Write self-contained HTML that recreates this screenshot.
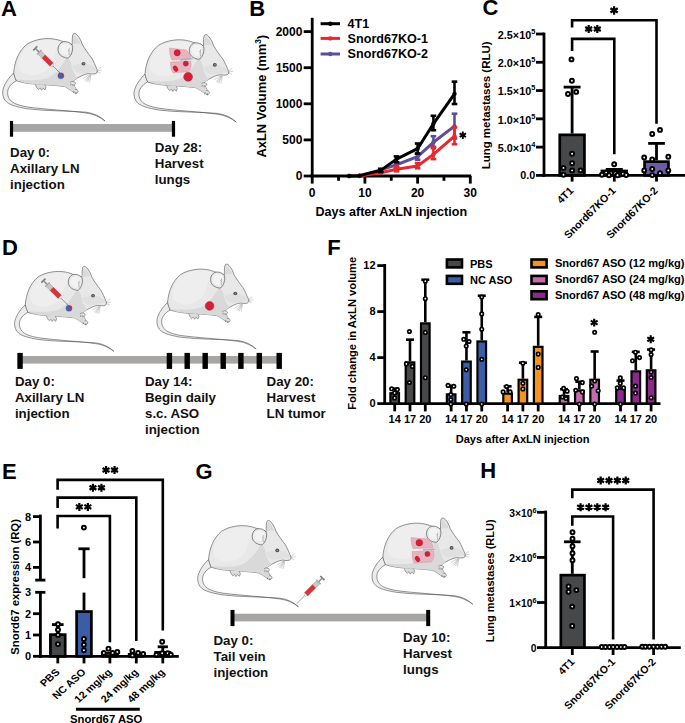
<!DOCTYPE html>
<html><head><meta charset="utf-8"><style>
html,body{margin:0;padding:0;background:#fff;width:685px;height:723px;overflow:hidden}
svg{display:block}
text{font-family:"Liberation Sans", sans-serif;font-weight:bold}
</style></head><body>
<svg width="685" height="723" viewBox="0 0 685 723" font-family='"Liberation Sans", sans-serif' font-weight="bold">
<defs>
<g id="mouse">
 <path d="M13.7 72.9 C9.5 77 5.5 82 3.6 87.5 C1.8 92.5 2.6 98.5 6.7 102.1 C10.5 105.2 17 107 27.4 108.8 C45 111.2 68 110.6 86 112.2 C94 113.2 100.5 116.5 105 121 C100.5 117.5 94.5 114.2 86 113 C70 110.6 45 109.5 27.4 107 C18 105.3 12.5 103 10.2 100 C7.2 96.5 7 91.5 8.6 88.2 C10.5 84.5 13.5 82.2 16.4 80.8 Z" fill="#ececec" stroke="#4a4a4a" stroke-width="0.6"/>
 <path d="M13.7 72.9 C14.5 62 18.5 51 27 44.2 C35 39 47 37.6 55 39.2 C58 39.8 60.5 40.6 62.3 41.3 L72.2 44.6 C72.3 40 72.2 36 73 34.3 C74 33 75.5 33 77 34.8 C79.5 37.5 81.3 41 82 43.9 C84.5 48.5 88.5 54 91.5 57.7 C93.5 61 95.5 66 97 69.4 C97.8 71.2 97.5 72.8 95.8 73.6 C93.5 74.3 91 73.8 88.6 73.6 C85 74 81 76 77.5 78 C75.5 79.5 73.5 80.5 72.5 81.5 C73.5 84.5 75.5 88 77 91 C77.5 92.5 76 93.3 74.5 92.8 C71 90.5 67.5 88 64.5 86.5 C58 85.6 52 85.2 46 84.8 C40 84.5 34 84.2 28 83.4 C23 82.6 19 81.6 16.4 80.8 C15 78 14.2 75.5 13.7 72.9 Z" fill="#e8e8e8" stroke="#4a4a4a" stroke-width="0.6"/>
 <path d="M67 57 C63 64 58.5 72 49 77.5 C40 81 28 80.5 17.5 79.6 C19.5 81.6 23 82.6 28 83.4 C34 84.2 40 84.5 46 84.8 C52 85.2 58 85.6 64.5 86.5 C67.5 88 71 90.5 74.5 92.6 L76.8 91 C75.3 88 73.4 84.5 72.6 81.6 C73.5 80.5 75.5 79.5 77.5 78 C74.5 75 72 70 71 63 C70 60 68.5 58 67 57 Z" fill="#d9d9d9"/>
 <path d="M18.5 66 C18 55 25 45.5 36 41.5 C45 39 54 39.5 60.5 42 C57 47 54 56 52 63 C49 70 42 74.5 33 75 C25 75 19 71.5 18.5 66 Z" fill="#eeeeee"/>
 <path d="M72 66 C77 63.5 84 62.5 90 64.5 C93 66 95.5 68 96.8 70.2 C93 71.8 87 72.5 82 73.3 C77 74 74 71 72 66 Z" fill="#e0e0e0"/>
 <path d="M72.8 44.2 C73 40 73.3 37 74.2 35.2 C76.5 36.5 79 40 80.5 43.5 C78 43.5 75 44 72.8 44.2 Z" fill="#dadada"/>
 <path d="M60.2 55 C57.2 52 57.3 46 60.8 43 C64 40.3 69.8 41.8 72.2 45.2 C73.3 48 72.3 52.5 70.7 55.2 C69.5 57.4 68 58.4 66.5 58 C64 57.5 61.6 56.4 60.2 55 Z" fill="#eaeaea" stroke="#4a4a4a" stroke-width="0.65"/>
 <path d="M61.5 52.5 C59.8 50 60.3 46 62.8 44.3 C65.5 42.8 69.3 44 70.5 46.5 C71 49 70 52.5 68.5 54.5 C66.5 55.5 63.5 54.5 61.5 52.5 Z" fill="#f3f3f3"/>
 <path d="M69.3 48.2 C68.8 50.8 68.8 53.3 69.3 55.3 M68.3 50 L69 51" stroke="#7a7a7a" stroke-width="0.5" fill="none"/>
 <ellipse cx="83.5" cy="63.7" rx="2.0" ry="1.8" fill="#4a4a4a"/>
 <ellipse cx="83.6" cy="63.7" rx="1.0" ry="0.9" fill="#8a8a8a"/>
 <path d="M96.5 70.5 L101 67.2 M96.8 71 L102 70 M96.5 71.5 L100.5 73 M90 74.5 L85 80.5 M90.5 74.8 L87.5 82 M91 75 L89.5 82.5 M89.5 74.5 L83 78.5 M90.5 74.6 L86 81.5" stroke="#8c8c8c" stroke-width="0.4" fill="none"/>
 <path d="M70 82.5 C71.5 81 74 81.2 75.2 82.5 C76 83.6 75 85 73.5 85 M71 83.5 L70.8 85.5 M72.8 84 L73 86 M75 89.5 C76.5 89 78.2 90 78.2 91.5 C78 93 76.5 93.5 75 93 M74 91 L73.2 93.2 M76 92 L76 94.2" stroke="#4a4a4a" stroke-width="0.5" fill="#e4e4e4"/>
 <path d="M35.5 84.5 C36 86.5 37 88.5 38.5 89.5 L40.2 88 L41.5 90.3 L43 88.2 L45 90 L46 87.5 C45.5 86 45 85 44.5 84.6" stroke="#4a4a4a" stroke-width="0.5" fill="#dcdcdc"/>
</g>
<g id="syr">
 <g transform="rotate(45)">
  <rect x="-0.2" y="-2.9" width="1.6" height="5.8" fill="#7a7a7a"/>
  <rect x="1.4" y="-0.75" width="4.2" height="1.5" fill="#8c8c8c"/>
  <rect x="5.5" y="-3.1" width="1.1" height="6.2" fill="#9a9a9a"/>
  <rect x="6.6" y="-2.3" width="5.8" height="4.6" fill="#c6c6c6" stroke="#8a8a8a" stroke-width="0.35"/>
  <rect x="12.4" y="-2.3" width="11.3" height="4.6" fill="#d8333a" stroke="#a8232a" stroke-width="0.35"/>
  <rect x="23.7" y="-1.3" width="1.9" height="2.6" fill="#eeeeee" stroke="#8a8a8a" stroke-width="0.3"/>
  <line x1="25.5" y1="0" x2="37" y2="0" stroke="#4a4a4a" stroke-width="0.5"/>
 </g>
</g></defs>
<rect width="685" height="723" fill="#fff"/>
<text x="1.00" y="15.90" font-size="22" fill="#000" >A</text>
<text x="249.20" y="15.70" font-size="22" fill="#000" >B</text>
<text x="482.40" y="15.20" font-size="22" fill="#000" >C</text>
<text x="1.90" y="254.60" font-size="22" fill="#000" >D</text>
<text x="1.90" y="479.30" font-size="22" fill="#000" >E</text>
<text x="327.30" y="254.80" font-size="22" fill="#000" >F</text>
<text x="195.50" y="478.80" font-size="22" fill="#000" >G</text>
<text x="480.20" y="477.90" font-size="22" fill="#000" >H</text>
<use href="#mouse" transform="translate(0.00,0.00) scale(1.0)"/>
<use href="#syr" transform="translate(34.9,47.9)"/>
<circle cx="60.9" cy="75.8" r="3" fill="#3c64b4" stroke="#2a4a8a" stroke-width="0.4"/><circle cx="62.2" cy="75.1" r="1.4" fill="#e0263a"/>
<use href="#mouse" transform="translate(131.30,1.20) scale(1.0)"/>
<path d="M169.5 48 L186 50 C189 52 191 55 190.5 59 L172 60 C170 57 169.5 52 169.5 48 Z" fill="#e6b3be" stroke="#d08a9a" stroke-width="0.4"/>
<path d="M170.5 62 L190.5 61 C191.5 64 191.5 68 189 71.5 L173 73 C171 70 170.5 66 170.5 62 Z" fill="#e6b3be" stroke="#d08a9a" stroke-width="0.4"/>
<path d="M180.5 60 L192.5 58.6" stroke="#9fb3c9" stroke-width="1.3"/>
<circle cx="177.2" cy="52.8" r="3.1" fill="#d81e34" stroke="#a8142a" stroke-width="0.5"/><circle cx="185.8" cy="63.6" r="2.5" fill="#d81e34" stroke="#a8142a" stroke-width="0.5"/><ellipse cx="175.6" cy="68.7" rx="2" ry="3" transform="rotate(-30 175.6 68.7)" fill="#d81e34" stroke="#a8142a" stroke-width="0.5"/><circle cx="188.1" cy="76.8" r="4.4" fill="#d81e34" stroke="#a8142a" stroke-width="0.5"/>
<rect x="11.50" y="124.00" width="162.00" height="7.80" fill="#a7a6a4" stroke="none" stroke-width="0"/>
<rect x="9.90" y="120.90" width="3.20" height="15.80" fill="#000" stroke="none" stroke-width="0"/>
<rect x="171.90" y="120.90" width="3.20" height="15.80" fill="#000" stroke="none" stroke-width="0"/>
<g transform="translate(10.10,156.60) scale(1.11,1)" fill="#111">
<text x="0" y="0" font-size="12">Day 0:</text>
<text x="0" y="16" font-size="12">Axillary LN</text>
<text x="0" y="32" font-size="12">injection</text>
</g>
<g transform="translate(154.80,151.80) scale(1.11,1)" fill="#111">
<text x="0" y="0" font-size="12">Day 28:</text>
<text x="0" y="16" font-size="12">Harvest</text>
<text x="0" y="32" font-size="12">lungs</text>
</g>
<use href="#mouse" transform="translate(12.00,234.00) scale(0.97)"/>
<use href="#syr" transform="translate(43.0,280.2)"/>
<circle cx="69.0" cy="308.3" r="3" fill="#3c64b4" stroke="#2a4a8a" stroke-width="0.4"/><circle cx="70.3" cy="307.5" r="1.4" fill="#e0263a"/>
<use href="#mouse" transform="translate(154.30,231.70) scale(0.97)"/>
<circle cx="209.6" cy="305.9" r="4.3" fill="#d81e34" stroke="#a8142a" stroke-width="0.5"/>
<rect x="20.00" y="356.00" width="259.00" height="7.60" fill="#a7a6a4" stroke="none" stroke-width="0"/>
<rect x="17.35" y="352.90" width="5.40" height="16.00" fill="#000" stroke="none" stroke-width="0"/>
<rect x="166.70" y="352.90" width="5.40" height="16.00" fill="#000" stroke="none" stroke-width="0"/>
<rect x="184.50" y="352.90" width="5.40" height="16.00" fill="#000" stroke="none" stroke-width="0"/>
<rect x="202.50" y="352.90" width="5.40" height="16.00" fill="#000" stroke="none" stroke-width="0"/>
<rect x="220.50" y="352.90" width="5.40" height="16.00" fill="#000" stroke="none" stroke-width="0"/>
<rect x="238.20" y="352.90" width="5.40" height="16.00" fill="#000" stroke="none" stroke-width="0"/>
<rect x="256.60" y="352.90" width="5.40" height="16.00" fill="#000" stroke="none" stroke-width="0"/>
<rect x="276.50" y="352.90" width="5.40" height="16.00" fill="#000" stroke="none" stroke-width="0"/>
<g transform="translate(14.90,385.80) scale(1.11,1)" fill="#111">
<text x="0" y="0" font-size="12">Day 0:</text>
<text x="0" y="16" font-size="12">Axillary LN</text>
<text x="0" y="32" font-size="12">injection</text>
</g>
<g transform="translate(145.00,386.20) scale(1.11,1)" fill="#111">
<text x="0" y="0" font-size="12">Day 14:</text>
<text x="0" y="16" font-size="12">Begin daily</text>
<text x="0" y="32" font-size="12">s.c. ASO</text>
<text x="0" y="48" font-size="12">injection</text>
</g>
<g transform="translate(266.60,386.00) scale(1.11,1)" fill="#111">
<text x="0" y="0" font-size="12">Day 20:</text>
<text x="0" y="16" font-size="12">Harvest</text>
<text x="0" y="32" font-size="12">LN tumor</text>
</g>
<use href="#mouse" transform="translate(195.05,487.65) scale(0.985)"/>
<use href="#syr" transform="translate(322.8,577.6) rotate(90)"/>
<use href="#mouse" transform="translate(369.35,485.15) scale(0.985)"/>
<path d="M411 537.5 L428 539 C431.5 541 433 544 432.7 548 L413 548.5 C411.5 545 411 541 411 537.5 Z" fill="#e6b3be" stroke="#d08a9a" stroke-width="0.4"/>
<path d="M412 551.5 L433.5 551 C434.5 554 434 558 431.5 562 L414 563 C412.5 560 412 555.5 412 551.5 Z" fill="#e6b3be" stroke="#d08a9a" stroke-width="0.4"/>
<path d="M423 550 L434.5 549.3" stroke="#9fb3c9" stroke-width="1.3"/>
<circle cx="419.3" cy="542.7" r="3.3" fill="#d81e34" stroke="#a8142a" stroke-width="0.5"/><circle cx="427.4" cy="554" r="2.5" fill="#d81e34" stroke="#a8142a" stroke-width="0.5"/><ellipse cx="417.5" cy="559" rx="2" ry="3" transform="rotate(-30 417.5 559)" fill="#d81e34" stroke="#a8142a" stroke-width="0.5"/>
<rect x="232.50" y="613.70" width="195.70" height="7.70" fill="#a7a6a4" stroke="none" stroke-width="0"/>
<rect x="230.50" y="609.90" width="4.00" height="16.20" fill="#000" stroke="none" stroke-width="0"/>
<rect x="426.20" y="609.90" width="4.00" height="16.20" fill="#000" stroke="none" stroke-width="0"/>
<g transform="translate(213.50,644.70) scale(1.11,1)" fill="#111">
<text x="0" y="0" font-size="12">Day 0:</text>
<text x="0" y="16" font-size="12">Tail vein</text>
<text x="0" y="32" font-size="12">injection</text>
</g>
<g transform="translate(403.10,642.20) scale(1.11,1)" fill="#111">
<text x="0" y="0" font-size="12">Day 10:</text>
<text x="0" y="16" font-size="12">Harvest</text>
<text x="0" y="32" font-size="12">lungs</text>
</g>
<line x1="312.20" y1="17.80" x2="312.20" y2="177.40" stroke="#000" stroke-width="2.8" stroke-linecap="butt"/>
<line x1="310.80" y1="176.00" x2="471.20" y2="176.00" stroke="#000" stroke-width="2.8" stroke-linecap="butt"/>
<line x1="303.70" y1="176.00" x2="312.20" y2="176.00" stroke="#000" stroke-width="2.8" stroke-linecap="butt"/>
<text x="302.40" y="180.30" font-size="12" fill="#000" text-anchor="end" >0</text>
<line x1="303.70" y1="139.90" x2="312.20" y2="139.90" stroke="#000" stroke-width="2.8" stroke-linecap="butt"/>
<text x="302.40" y="144.20" font-size="12" fill="#000" text-anchor="end" >500</text>
<line x1="303.70" y1="103.80" x2="312.20" y2="103.80" stroke="#000" stroke-width="2.8" stroke-linecap="butt"/>
<text x="302.40" y="108.10" font-size="12" fill="#000" text-anchor="end" >1000</text>
<line x1="303.70" y1="67.70" x2="312.20" y2="67.70" stroke="#000" stroke-width="2.8" stroke-linecap="butt"/>
<text x="302.40" y="72.00" font-size="12" fill="#000" text-anchor="end" >1500</text>
<line x1="303.70" y1="31.60" x2="312.20" y2="31.60" stroke="#000" stroke-width="2.8" stroke-linecap="butt"/>
<text x="302.40" y="35.90" font-size="12" fill="#000" text-anchor="end" >2000</text>
<line x1="312.20" y1="176.00" x2="312.20" y2="183.60" stroke="#000" stroke-width="2.8" stroke-linecap="butt"/>
<text x="312.20" y="196.50" font-size="12" fill="#000" text-anchor="middle" >0</text>
<line x1="364.90" y1="176.00" x2="364.90" y2="183.60" stroke="#000" stroke-width="2.8" stroke-linecap="butt"/>
<text x="364.90" y="196.50" font-size="12" fill="#000" text-anchor="middle" >10</text>
<line x1="417.60" y1="176.00" x2="417.60" y2="183.60" stroke="#000" stroke-width="2.8" stroke-linecap="butt"/>
<text x="417.60" y="196.50" font-size="12" fill="#000" text-anchor="middle" >20</text>
<line x1="470.30" y1="176.00" x2="470.30" y2="183.60" stroke="#000" stroke-width="2.8" stroke-linecap="butt"/>
<text x="470.30" y="196.50" font-size="12" fill="#000" text-anchor="middle" >30</text>
<line x1="338.55" y1="176.00" x2="338.55" y2="180.80" stroke="#000" stroke-width="2.8" stroke-linecap="butt"/>
<line x1="391.25" y1="176.00" x2="391.25" y2="180.80" stroke="#000" stroke-width="2.8" stroke-linecap="butt"/>
<line x1="443.95" y1="176.00" x2="443.95" y2="180.80" stroke="#000" stroke-width="2.8" stroke-linecap="butt"/>
<text x="391.30" y="216.00" font-size="12.5" fill="#000" text-anchor="middle" textLength="151.5" lengthAdjust="spacingAndGlyphs" >Days after AxLN injection</text>
<text font-size="12.9" text-anchor="middle" transform="translate(266.2,96.2) rotate(-90)">AxLN Volume (mm<tspan font-size="8.3" dy="-5">3</tspan><tspan dy="5">)</tspan></text>
<line x1="320.60" y1="23.70" x2="340.00" y2="23.70" stroke="#000" stroke-width="3" stroke-linecap="butt"/>
<circle cx="330.3" cy="23.7" r="2.2" fill="#000"/>
<text x="347.60" y="28.10" font-size="12.6" fill="#000" >4T1</text>
<line x1="320.60" y1="38.40" x2="340.00" y2="38.40" stroke="#e8282c" stroke-width="3" stroke-linecap="butt"/>
<circle cx="330.3" cy="38.4" r="2.2" fill="#e8282c"/>
<text x="347.60" y="42.80" font-size="12.6" fill="#000" >Snord67KO-1</text>
<line x1="320.60" y1="54.00" x2="340.00" y2="54.00" stroke="#5e4e9a" stroke-width="3" stroke-linecap="butt"/>
<circle cx="330.3" cy="54.0" r="2.2" fill="#5e4e9a"/>
<text x="347.60" y="58.40" font-size="12.6" fill="#000" >Snord67KO-2</text>
<path d="M349.09 176.00 L359.63 175.78 L380.71 169.86 L396.52 164.74 L417.60 156.72 L433.41 142.28 L454.49 126.18" fill="none" stroke="#5e4e9a" stroke-width="3" stroke-linejoin="round"/>
<line x1="396.52" y1="167.34" x2="396.52" y2="162.28" stroke="#5e4e9a" stroke-width="2.6" stroke-linecap="butt"/>
<line x1="393.72" y1="167.34" x2="399.32" y2="167.34" stroke="#5e4e9a" stroke-width="2.6" stroke-linecap="butt"/>
<line x1="393.72" y1="162.28" x2="399.32" y2="162.28" stroke="#5e4e9a" stroke-width="2.6" stroke-linecap="butt"/>
<line x1="417.60" y1="159.75" x2="417.60" y2="153.62" stroke="#5e4e9a" stroke-width="2.6" stroke-linecap="butt"/>
<line x1="414.80" y1="159.75" x2="420.40" y2="159.75" stroke="#5e4e9a" stroke-width="2.6" stroke-linecap="butt"/>
<line x1="414.80" y1="153.62" x2="420.40" y2="153.62" stroke="#5e4e9a" stroke-width="2.6" stroke-linecap="butt"/>
<line x1="433.41" y1="148.20" x2="433.41" y2="136.22" stroke="#5e4e9a" stroke-width="2.6" stroke-linecap="butt"/>
<line x1="430.61" y1="148.20" x2="436.21" y2="148.20" stroke="#5e4e9a" stroke-width="2.6" stroke-linecap="butt"/>
<line x1="430.61" y1="136.22" x2="436.21" y2="136.22" stroke="#5e4e9a" stroke-width="2.6" stroke-linecap="butt"/>
<line x1="454.49" y1="138.46" x2="454.49" y2="113.69" stroke="#5e4e9a" stroke-width="2.6" stroke-linecap="butt"/>
<line x1="451.69" y1="138.46" x2="457.29" y2="138.46" stroke="#5e4e9a" stroke-width="2.6" stroke-linecap="butt"/>
<line x1="451.69" y1="113.69" x2="457.29" y2="113.69" stroke="#5e4e9a" stroke-width="2.6" stroke-linecap="butt"/>
<circle cx="349.09" cy="176.00" r="2.2" fill="#5e4e9a"/>
<circle cx="359.63" cy="175.78" r="2.2" fill="#5e4e9a"/>
<circle cx="380.71" cy="169.86" r="2.2" fill="#5e4e9a"/>
<circle cx="396.52" cy="164.74" r="2.2" fill="#5e4e9a"/>
<circle cx="417.60" cy="156.72" r="2.2" fill="#5e4e9a"/>
<circle cx="433.41" cy="142.28" r="2.2" fill="#5e4e9a"/>
<circle cx="454.49" cy="126.18" r="2.2" fill="#5e4e9a"/>
<path d="M349.09 176.00 L359.63 176.00 L380.71 172.82 L396.52 169.21 L417.60 166.04 L433.41 154.34 L454.49 136.22" fill="none" stroke="#e8282c" stroke-width="3" stroke-linejoin="round"/>
<line x1="396.52" y1="171.31" x2="396.52" y2="166.97" stroke="#e8282c" stroke-width="2.6" stroke-linecap="butt"/>
<line x1="393.72" y1="171.31" x2="399.32" y2="171.31" stroke="#e8282c" stroke-width="2.6" stroke-linecap="butt"/>
<line x1="393.72" y1="166.97" x2="399.32" y2="166.97" stroke="#e8282c" stroke-width="2.6" stroke-linecap="butt"/>
<line x1="417.60" y1="168.27" x2="417.60" y2="163.08" stroke="#e8282c" stroke-width="2.6" stroke-linecap="butt"/>
<line x1="414.80" y1="168.27" x2="420.40" y2="168.27" stroke="#e8282c" stroke-width="2.6" stroke-linecap="butt"/>
<line x1="414.80" y1="163.08" x2="420.40" y2="163.08" stroke="#e8282c" stroke-width="2.6" stroke-linecap="butt"/>
<line x1="433.41" y1="159.11" x2="433.41" y2="146.83" stroke="#e8282c" stroke-width="2.6" stroke-linecap="butt"/>
<line x1="430.61" y1="159.11" x2="436.21" y2="159.11" stroke="#e8282c" stroke-width="2.6" stroke-linecap="butt"/>
<line x1="430.61" y1="146.83" x2="436.21" y2="146.83" stroke="#e8282c" stroke-width="2.6" stroke-linecap="butt"/>
<line x1="454.49" y1="144.23" x2="454.49" y2="127.48" stroke="#e8282c" stroke-width="2.6" stroke-linecap="butt"/>
<line x1="451.69" y1="144.23" x2="457.29" y2="144.23" stroke="#e8282c" stroke-width="2.6" stroke-linecap="butt"/>
<line x1="451.69" y1="127.48" x2="457.29" y2="127.48" stroke="#e8282c" stroke-width="2.6" stroke-linecap="butt"/>
<circle cx="349.09" cy="176.00" r="2.2" fill="#e8282c"/>
<circle cx="359.63" cy="176.00" r="2.2" fill="#e8282c"/>
<circle cx="380.71" cy="172.82" r="2.2" fill="#e8282c"/>
<circle cx="396.52" cy="169.21" r="2.2" fill="#e8282c"/>
<circle cx="417.60" cy="166.04" r="2.2" fill="#e8282c"/>
<circle cx="433.41" cy="154.34" r="2.2" fill="#e8282c"/>
<circle cx="454.49" cy="136.22" r="2.2" fill="#e8282c"/>
<path d="M349.09 176.00 L359.63 175.64 L380.71 170.37 L396.52 159.11 L417.60 148.71 L433.41 123.80 L454.49 93.84" fill="none" stroke="#000" stroke-width="3" stroke-linejoin="round"/>
<line x1="380.71" y1="172.03" x2="380.71" y2="168.78" stroke="#000" stroke-width="2.6" stroke-linecap="butt"/>
<line x1="377.91" y1="172.03" x2="383.51" y2="172.03" stroke="#000" stroke-width="2.6" stroke-linecap="butt"/>
<line x1="377.91" y1="168.78" x2="383.51" y2="168.78" stroke="#000" stroke-width="2.6" stroke-linecap="butt"/>
<line x1="396.52" y1="162.28" x2="396.52" y2="156.43" stroke="#000" stroke-width="2.6" stroke-linecap="butt"/>
<line x1="393.72" y1="162.28" x2="399.32" y2="162.28" stroke="#000" stroke-width="2.6" stroke-linecap="butt"/>
<line x1="393.72" y1="156.43" x2="399.32" y2="156.43" stroke="#000" stroke-width="2.6" stroke-linecap="butt"/>
<line x1="417.60" y1="153.55" x2="417.60" y2="143.51" stroke="#000" stroke-width="2.6" stroke-linecap="butt"/>
<line x1="414.80" y1="153.55" x2="420.40" y2="153.55" stroke="#000" stroke-width="2.6" stroke-linecap="butt"/>
<line x1="414.80" y1="143.51" x2="420.40" y2="143.51" stroke="#000" stroke-width="2.6" stroke-linecap="butt"/>
<line x1="433.41" y1="130.23" x2="433.41" y2="115.79" stroke="#000" stroke-width="2.6" stroke-linecap="butt"/>
<line x1="430.61" y1="130.23" x2="436.21" y2="130.23" stroke="#000" stroke-width="2.6" stroke-linecap="butt"/>
<line x1="430.61" y1="115.79" x2="436.21" y2="115.79" stroke="#000" stroke-width="2.6" stroke-linecap="butt"/>
<line x1="454.49" y1="104.02" x2="454.49" y2="81.63" stroke="#000" stroke-width="2.6" stroke-linecap="butt"/>
<line x1="451.69" y1="104.02" x2="457.29" y2="104.02" stroke="#000" stroke-width="2.6" stroke-linecap="butt"/>
<line x1="451.69" y1="81.63" x2="457.29" y2="81.63" stroke="#000" stroke-width="2.6" stroke-linecap="butt"/>
<circle cx="349.09" cy="176.00" r="2.2" fill="#000"/>
<circle cx="359.63" cy="175.64" r="2.2" fill="#000"/>
<circle cx="380.71" cy="170.37" r="2.2" fill="#000"/>
<circle cx="396.52" cy="159.11" r="2.2" fill="#000"/>
<circle cx="417.60" cy="148.71" r="2.2" fill="#000"/>
<circle cx="433.41" cy="123.80" r="2.2" fill="#000"/>
<circle cx="454.49" cy="93.84" r="2.2" fill="#000"/>
<path d="M462.80 138.90L462.80 131.50M459.60 137.05L466.00 133.35M459.60 133.35L466.00 137.05" stroke="#000" stroke-width="1.9" fill="none"/>
<line x1="544.00" y1="32.60" x2="544.00" y2="176.80" stroke="#000" stroke-width="2.8" stroke-linecap="butt"/>
<line x1="542.60" y1="175.40" x2="685.00" y2="175.40" stroke="#000" stroke-width="2.8" stroke-linecap="butt"/>
<line x1="536.00" y1="175.40" x2="544.00" y2="175.40" stroke="#000" stroke-width="2.8" stroke-linecap="butt"/>
<text x="535.3" y="179.20" font-size="10.8" text-anchor="end">0.0</text>
<line x1="536.00" y1="147.12" x2="544.00" y2="147.12" stroke="#000" stroke-width="2.8" stroke-linecap="butt"/>
<text x="535.3" y="152.02" font-size="10.8" text-anchor="end">5.0×10<tspan font-size="7.4" dy="-5.1">4</tspan></text>
<line x1="536.00" y1="118.84" x2="544.00" y2="118.84" stroke="#000" stroke-width="2.8" stroke-linecap="butt"/>
<text x="535.3" y="123.74" font-size="10.8" text-anchor="end">1.0×10<tspan font-size="7.4" dy="-5.1">5</tspan></text>
<line x1="536.00" y1="90.56" x2="544.00" y2="90.56" stroke="#000" stroke-width="2.8" stroke-linecap="butt"/>
<text x="535.3" y="95.46" font-size="10.8" text-anchor="end">1.5×10<tspan font-size="7.4" dy="-5.1">5</tspan></text>
<line x1="536.00" y1="62.28" x2="544.00" y2="62.28" stroke="#000" stroke-width="2.8" stroke-linecap="butt"/>
<text x="535.3" y="67.18" font-size="10.8" text-anchor="end">2.0×10<tspan font-size="7.4" dy="-5.1">5</tspan></text>
<line x1="536.00" y1="34.00" x2="544.00" y2="34.00" stroke="#000" stroke-width="2.8" stroke-linecap="butt"/>
<text x="535.3" y="38.90" font-size="10.8" text-anchor="end">2.5×10<tspan font-size="7.4" dy="-5.1">5</tspan></text>
<text font-size="11.45" text-anchor="middle" transform="translate(489.8,105.4) rotate(-90)">Lung metastases (RLU)</text>
<line x1="572.10" y1="175.40" x2="572.10" y2="181.60" stroke="#000" stroke-width="2.8" stroke-linecap="butt"/>
<line x1="614.30" y1="175.40" x2="614.30" y2="181.60" stroke="#000" stroke-width="2.8" stroke-linecap="butt"/>
<line x1="656.50" y1="175.40" x2="656.50" y2="181.60" stroke="#000" stroke-width="2.8" stroke-linecap="butt"/>
<line x1="572.10" y1="133.50" x2="572.10" y2="87.10" stroke="#000" stroke-width="2.8" stroke-linecap="butt"/>
<line x1="563.60" y1="87.10" x2="580.60" y2="87.10" stroke="#000" stroke-width="2.8" stroke-linecap="butt"/>
<rect x="559.75" y="134.85" width="24.70" height="40.55" fill="#47484a" stroke="#000" stroke-width="2.7"/>
<line x1="614.30" y1="169.50" x2="614.30" y2="169.40" stroke="#000" stroke-width="2.8" stroke-linecap="butt"/>
<line x1="605.80" y1="169.40" x2="622.80" y2="169.40" stroke="#000" stroke-width="2.8" stroke-linecap="butt"/>
<rect x="601.95" y="170.95" width="24.70" height="4.45" fill="#fff" stroke="#000" stroke-width="2.7"/>
<line x1="656.50" y1="160.30" x2="656.50" y2="143.40" stroke="#000" stroke-width="2.8" stroke-linecap="butt"/>
<line x1="648.15" y1="143.40" x2="664.85" y2="143.40" stroke="#000" stroke-width="2.8" stroke-linecap="butt"/>
<rect x="644.55" y="161.65" width="23.90" height="13.75" fill="#6c5ca8" stroke="#000" stroke-width="2.7"/>
<circle cx="571.50" cy="59.40" r="1.95" fill="#fff" stroke="#000" stroke-width="2.0"/>
<circle cx="571.90" cy="80.80" r="1.95" fill="#fff" stroke="#000" stroke-width="2.0"/>
<circle cx="568.00" cy="94.00" r="1.95" fill="#fff" stroke="#000" stroke-width="2.0"/>
<circle cx="576.20" cy="91.90" r="1.95" fill="#fff" stroke="#000" stroke-width="2.0"/>
<circle cx="572.10" cy="153.70" r="1.95" fill="#fff" stroke="#000" stroke-width="2.0"/>
<circle cx="572.10" cy="163.30" r="1.95" fill="#fff" stroke="#000" stroke-width="2.0"/>
<circle cx="563.50" cy="167.90" r="1.95" fill="#fff" stroke="#000" stroke-width="2.0"/>
<circle cx="572.10" cy="170.40" r="1.95" fill="#fff" stroke="#000" stroke-width="2.0"/>
<circle cx="580.60" cy="170.40" r="1.95" fill="#fff" stroke="#000" stroke-width="2.0"/>
<circle cx="563.50" cy="174.70" r="1.95" fill="#fff" stroke="#000" stroke-width="2.0"/>
<circle cx="614.20" cy="164.30" r="1.95" fill="#fff" stroke="#000" stroke-width="2.0"/>
<circle cx="602.00" cy="174.70" r="1.95" fill="#fff" stroke="#000" stroke-width="2.0"/>
<circle cx="606.20" cy="172.60" r="1.95" fill="#fff" stroke="#000" stroke-width="2.0"/>
<circle cx="611.00" cy="173.20" r="1.95" fill="#fff" stroke="#000" stroke-width="2.0"/>
<circle cx="615.30" cy="173.20" r="1.95" fill="#fff" stroke="#000" stroke-width="2.0"/>
<circle cx="619.50" cy="174.70" r="1.95" fill="#fff" stroke="#000" stroke-width="2.0"/>
<circle cx="623.00" cy="173.80" r="1.95" fill="#fff" stroke="#000" stroke-width="2.0"/>
<circle cx="626.20" cy="175.00" r="1.95" fill="#fff" stroke="#000" stroke-width="2.0"/>
<circle cx="609.00" cy="175.20" r="1.95" fill="#fff" stroke="#000" stroke-width="2.0"/>
<circle cx="617.50" cy="175.30" r="1.95" fill="#fff" stroke="#000" stroke-width="2.0"/>
<circle cx="660.00" cy="129.90" r="1.95" fill="#fff" stroke="#000" stroke-width="2.0"/>
<circle cx="652.20" cy="134.00" r="1.95" fill="#fff" stroke="#000" stroke-width="2.0"/>
<circle cx="644.20" cy="157.50" r="1.95" fill="#fff" stroke="#000" stroke-width="2.0"/>
<circle cx="652.20" cy="159.40" r="1.95" fill="#fff" stroke="#000" stroke-width="2.0"/>
<circle cx="668.30" cy="156.70" r="1.95" fill="#fff" stroke="#000" stroke-width="2.0"/>
<circle cx="644.20" cy="170.40" r="1.95" fill="#fff" stroke="#000" stroke-width="2.0"/>
<circle cx="652.20" cy="169.00" r="1.95" fill="#fff" stroke="#000" stroke-width="2.0"/>
<circle cx="660.00" cy="173.20" r="1.95" fill="#fff" stroke="#000" stroke-width="2.0"/>
<circle cx="668.30" cy="170.40" r="1.95" fill="#fff" stroke="#000" stroke-width="2.0"/>
<circle cx="652.20" cy="175.10" r="1.95" fill="#fff" stroke="#000" stroke-width="2.0"/>
<path d="M572.10 27.6 L572.10 20.3 L656.50 20.3 L656.50 123.8" fill="none" stroke="#000" stroke-width="2.6" />
<path d="M572.10 51.0 L572.10 38.9 L614.30 38.9 L614.30 154.2" fill="none" stroke="#000" stroke-width="2.6" />
<path d="M614.10 14.65L614.10 6.15M610.42 12.53L617.78 8.28M610.42 8.28L617.78 12.53" stroke="#000" stroke-width="2.2" fill="none"/>
<path d="M588.70 33.00L588.70 25.00M585.24 31.00L592.16 27.00M585.24 27.00L592.16 31.00" stroke="#000" stroke-width="2.2" fill="none"/>
<path d="M597.30 33.00L597.30 25.00M593.84 31.00L600.76 27.00M593.84 27.00L600.76 31.00" stroke="#000" stroke-width="2.2" fill="none"/>
<text font-size="10.6" text-anchor="end" transform="translate(574.10,191.40) rotate(-45)">4T1</text>
<text font-size="10.6" text-anchor="end" transform="translate(616.30,191.40) rotate(-45)">Snord67KO-1</text>
<text font-size="10.6" text-anchor="end" transform="translate(658.50,191.40) rotate(-45)">Snord67KO-2</text>
<line x1="40.40" y1="514.60" x2="40.40" y2="580.10" stroke="#000" stroke-width="2.8" stroke-linecap="butt"/>
<line x1="40.40" y1="592.30" x2="40.40" y2="657.70" stroke="#000" stroke-width="2.8" stroke-linecap="butt"/>
<line x1="35.20" y1="580.10" x2="45.40" y2="580.10" stroke="#000" stroke-width="2.8" stroke-linecap="butt"/>
<line x1="35.20" y1="592.30" x2="45.40" y2="592.30" stroke="#000" stroke-width="2.8" stroke-linecap="butt"/>
<line x1="33.00" y1="567.40" x2="40.40" y2="567.40" stroke="#000" stroke-width="2.8" stroke-linecap="butt"/>
<text x="31.20" y="571.40" font-size="11" fill="#000" text-anchor="end" >4</text>
<line x1="33.00" y1="542.00" x2="40.40" y2="542.00" stroke="#000" stroke-width="2.8" stroke-linecap="butt"/>
<text x="31.20" y="546.00" font-size="11" fill="#000" text-anchor="end" >6</text>
<line x1="33.00" y1="516.60" x2="40.40" y2="516.60" stroke="#000" stroke-width="2.8" stroke-linecap="butt"/>
<text x="31.20" y="520.60" font-size="11" fill="#000" text-anchor="end" >8</text>
<line x1="33.00" y1="656.30" x2="40.40" y2="656.30" stroke="#000" stroke-width="2.8" stroke-linecap="butt"/>
<text x="31.20" y="660.30" font-size="11" fill="#000" text-anchor="end" >0</text>
<line x1="33.00" y1="635.00" x2="40.40" y2="635.00" stroke="#000" stroke-width="2.8" stroke-linecap="butt"/>
<text x="31.20" y="639.00" font-size="11" fill="#000" text-anchor="end" >1</text>
<line x1="33.00" y1="613.70" x2="40.40" y2="613.70" stroke="#000" stroke-width="2.8" stroke-linecap="butt"/>
<text x="31.20" y="617.70" font-size="11" fill="#000" text-anchor="end" >2</text>
<text x="31.20" y="596.30" font-size="11" fill="#000" text-anchor="end" >3</text>
<line x1="39.00" y1="656.30" x2="178.80" y2="656.30" stroke="#000" stroke-width="2.8" stroke-linecap="butt"/>
<text text-anchor="middle" font-size="11.3" transform="translate(19.0,586.9) rotate(-90)">Snord67 expression (RQ)</text>
<line x1="57.80" y1="656.30" x2="57.80" y2="663.40" stroke="#000" stroke-width="2.8" stroke-linecap="butt"/>
<line x1="84.00" y1="656.30" x2="84.00" y2="663.40" stroke="#000" stroke-width="2.8" stroke-linecap="butt"/>
<line x1="109.90" y1="656.30" x2="109.90" y2="663.40" stroke="#000" stroke-width="2.8" stroke-linecap="butt"/>
<line x1="136.30" y1="656.30" x2="136.30" y2="663.40" stroke="#000" stroke-width="2.8" stroke-linecap="butt"/>
<line x1="162.80" y1="656.30" x2="162.80" y2="663.40" stroke="#000" stroke-width="2.8" stroke-linecap="butt"/>
<line x1="57.80" y1="633.50" x2="57.80" y2="624.60" stroke="#000" stroke-width="2.8" stroke-linecap="butt"/>
<line x1="52.00" y1="624.60" x2="63.60" y2="624.60" stroke="#000" stroke-width="2.8" stroke-linecap="butt"/>
<rect x="50.40" y="634.65" width="14.80" height="21.65" fill="#47484a" stroke="#000" stroke-width="2.7"/>
<line x1="84.00" y1="610.20" x2="84.00" y2="592.60" stroke="#000" stroke-width="2.8" stroke-linecap="butt"/>
<line x1="84.00" y1="578.20" x2="84.00" y2="548.80" stroke="#000" stroke-width="2.8" stroke-linecap="butt"/>
<line x1="78.40" y1="548.80" x2="89.60" y2="548.80" stroke="#000" stroke-width="2.8" stroke-linecap="butt"/>
<rect x="76.60" y="611.55" width="14.80" height="44.75" fill="#3a5ea6" stroke="#000" stroke-width="2.7"/>
<rect x="102.75" y="653.35" width="14.30" height="2.95" fill="#f29a3a" stroke="#000" stroke-width="2.7"/>
<rect x="129.15" y="654.35" width="14.30" height="1.95" fill="#c76cb2" stroke="#000" stroke-width="2.7"/>
<line x1="162.80" y1="651.00" x2="162.80" y2="646.80" stroke="#000" stroke-width="2.8" stroke-linecap="butt"/>
<line x1="157.70" y1="646.80" x2="167.90" y2="646.80" stroke="#000" stroke-width="2.8" stroke-linecap="butt"/>
<rect x="155.65" y="652.35" width="14.30" height="3.95" fill="#8a2a86" stroke="#000" stroke-width="2.7"/>
<circle cx="58.00" cy="624.30" r="1.95" fill="#fff" stroke="#000" stroke-width="2.0"/>
<circle cx="58.00" cy="629.80" r="1.95" fill="#fff" stroke="#000" stroke-width="2.0"/>
<circle cx="58.00" cy="634.90" r="1.95" fill="#fff" stroke="#000" stroke-width="2.0"/>
<circle cx="58.00" cy="644.10" r="1.95" fill="#fff" stroke="#000" stroke-width="2.0"/>
<circle cx="83.90" cy="527.60" r="1.95" fill="#fff" stroke="#000" stroke-width="2.0"/>
<circle cx="83.90" cy="639.00" r="1.95" fill="#fff" stroke="#000" stroke-width="2.0"/>
<circle cx="83.90" cy="644.70" r="1.95" fill="#fff" stroke="#000" stroke-width="2.0"/>
<circle cx="83.90" cy="650.30" r="1.95" fill="#fff" stroke="#000" stroke-width="2.0"/>
<circle cx="103.80" cy="652.90" r="1.95" fill="#fff" stroke="#000" stroke-width="2.0"/>
<circle cx="108.50" cy="648.80" r="1.95" fill="#fff" stroke="#000" stroke-width="2.0"/>
<circle cx="112.60" cy="652.90" r="1.95" fill="#fff" stroke="#000" stroke-width="2.0"/>
<circle cx="117.30" cy="651.90" r="1.95" fill="#fff" stroke="#000" stroke-width="2.0"/>
<circle cx="132.40" cy="650.90" r="1.95" fill="#fff" stroke="#000" stroke-width="2.0"/>
<circle cx="132.40" cy="655.40" r="1.95" fill="#fff" stroke="#000" stroke-width="2.0"/>
<circle cx="138.10" cy="652.90" r="1.95" fill="#fff" stroke="#000" stroke-width="2.0"/>
<circle cx="143.20" cy="653.90" r="1.95" fill="#fff" stroke="#000" stroke-width="2.0"/>
<circle cx="162.20" cy="641.70" r="1.95" fill="#fff" stroke="#000" stroke-width="2.0"/>
<circle cx="156.50" cy="654.60" r="1.95" fill="#fff" stroke="#000" stroke-width="2.0"/>
<circle cx="162.20" cy="653.30" r="1.95" fill="#fff" stroke="#000" stroke-width="2.0"/>
<circle cx="167.70" cy="653.30" r="1.95" fill="#fff" stroke="#000" stroke-width="2.0"/>
<circle cx="170.80" cy="654.60" r="1.95" fill="#fff" stroke="#000" stroke-width="2.0"/>
<path d="M57.6 489.7 L57.6 479.9 L162.80 479.9 L162.80 630.4" fill="none" stroke="#000" stroke-width="2.6" />
<path d="M57.6 508.1 L57.6 497.6 L136.30 497.6 L136.30 641.1" fill="none" stroke="#000" stroke-width="2.6" />
<path d="M57.6 528.5 L57.6 516.0 L109.90 516.0 L109.90 642.3" fill="none" stroke="#000" stroke-width="2.6" />
<path d="M106.05 474.00L106.05 466.00M102.59 472.00L109.51 468.00M102.59 468.00L109.51 472.00" stroke="#000" stroke-width="2.2" fill="none"/>
<path d="M114.55 474.00L114.55 466.00M111.09 472.00L118.01 468.00M111.09 468.00L118.01 472.00" stroke="#000" stroke-width="2.2" fill="none"/>
<path d="M92.95 491.80L92.95 483.80M89.49 489.80L96.41 485.80M89.49 485.80L96.41 489.80" stroke="#000" stroke-width="2.2" fill="none"/>
<path d="M101.45 491.80L101.45 483.80M97.99 489.80L104.91 485.80M97.99 485.80L104.91 489.80" stroke="#000" stroke-width="2.2" fill="none"/>
<path d="M79.35 510.90L79.35 502.90M75.89 508.90L82.81 504.90M75.89 504.90L82.81 508.90" stroke="#000" stroke-width="2.2" fill="none"/>
<path d="M87.85 510.90L87.85 502.90M84.39 508.90L91.31 504.90M84.39 504.90L91.31 508.90" stroke="#000" stroke-width="2.2" fill="none"/>
<text font-size="11" text-anchor="end" transform="translate(60.40,672.90) scale(1,0.9) rotate(-45)">PBS</text>
<text font-size="11" text-anchor="end" transform="translate(86.60,672.90) scale(1,0.9) rotate(-45)">NC ASO</text>
<text font-size="11" text-anchor="end" transform="translate(112.50,672.90) scale(1,0.9) rotate(-45)">12 mg/kg</text>
<text font-size="11" text-anchor="end" transform="translate(138.90,672.90) scale(1,0.9) rotate(-45)">24 mg/kg</text>
<text font-size="11" text-anchor="end" transform="translate(165.40,672.90) scale(1,0.9) rotate(-45)">48 mg/kg</text>
<line x1="75.90" y1="709.30" x2="139.80" y2="709.30" stroke="#000" stroke-width="3.0" stroke-linecap="butt"/>
<text x="106.20" y="722.60" font-size="11.3" fill="#000" text-anchor="middle" >Snord67 ASO</text>
<line x1="384.70" y1="264.00" x2="384.70" y2="405.00" stroke="#000" stroke-width="2.8" stroke-linecap="butt"/>
<line x1="383.30" y1="403.60" x2="660.50" y2="403.60" stroke="#000" stroke-width="2.8" stroke-linecap="butt"/>
<line x1="377.30" y1="403.60" x2="384.70" y2="403.60" stroke="#000" stroke-width="2.8" stroke-linecap="butt"/>
<text x="375.60" y="407.20" font-size="11" fill="#000" text-anchor="end" >0</text>
<line x1="377.30" y1="357.60" x2="384.70" y2="357.60" stroke="#000" stroke-width="2.8" stroke-linecap="butt"/>
<text x="375.60" y="361.20" font-size="11" fill="#000" text-anchor="end" >4</text>
<line x1="377.30" y1="311.60" x2="384.70" y2="311.60" stroke="#000" stroke-width="2.8" stroke-linecap="butt"/>
<text x="375.60" y="315.20" font-size="11" fill="#000" text-anchor="end" >8</text>
<line x1="377.30" y1="265.60" x2="384.70" y2="265.60" stroke="#000" stroke-width="2.8" stroke-linecap="butt"/>
<text x="375.60" y="269.20" font-size="11" fill="#000" text-anchor="end" >12</text>
<text font-size="11.2" text-anchor="middle" transform="translate(355.8,333.3) rotate(-90)">Fold change in AxLN volume</text>
<text x="522.60" y="443.10" font-size="11" fill="#000" text-anchor="middle" textLength="133.8" lengthAdjust="spacingAndGlyphs" >Days after AxLN injection</text>
<line x1="394.70" y1="403.60" x2="394.70" y2="411.40" stroke="#000" stroke-width="2.8" stroke-linecap="butt"/>
<line x1="394.70" y1="392.10" x2="394.70" y2="388.65" stroke="#000" stroke-width="2.6" stroke-linecap="butt"/>
<line x1="390.70" y1="388.65" x2="398.70" y2="388.65" stroke="#000" stroke-width="2.6" stroke-linecap="butt"/>
<rect x="390.40" y="393.20" width="8.60" height="10.40" fill="#47484a" stroke="#000" stroke-width="2.2"/>
<circle cx="391.60" cy="388.80" r="1.7" fill="#fff" stroke="#000" stroke-width="1.7"/>
<circle cx="397.40" cy="389.60" r="1.7" fill="#fff" stroke="#000" stroke-width="1.7"/>
<circle cx="394.60" cy="392.90" r="1.7" fill="#fff" stroke="#000" stroke-width="1.7"/>
<circle cx="394.60" cy="397.90" r="1.7" fill="#fff" stroke="#000" stroke-width="1.7"/>
<text x="394.70" y="422.90" font-size="11" fill="#000" text-anchor="middle" >14</text>
<line x1="410.00" y1="403.60" x2="410.00" y2="411.40" stroke="#000" stroke-width="2.8" stroke-linecap="butt"/>
<line x1="410.00" y1="361.28" x2="410.00" y2="339.66" stroke="#000" stroke-width="2.6" stroke-linecap="butt"/>
<line x1="406.00" y1="339.66" x2="414.00" y2="339.66" stroke="#000" stroke-width="2.6" stroke-linecap="butt"/>
<rect x="405.70" y="362.38" width="8.60" height="41.22" fill="#47484a" stroke="#000" stroke-width="2.2"/>
<circle cx="409.40" cy="331.50" r="1.7" fill="#fff" stroke="#000" stroke-width="1.7"/>
<circle cx="406.40" cy="363.90" r="1.7" fill="#fff" stroke="#000" stroke-width="1.7"/>
<circle cx="412.40" cy="366.40" r="1.7" fill="#fff" stroke="#000" stroke-width="1.7"/>
<circle cx="409.40" cy="382.50" r="1.7" fill="#fff" stroke="#000" stroke-width="1.7"/>
<text x="410.00" y="422.90" font-size="11" fill="#000" text-anchor="middle" >17</text>
<line x1="425.30" y1="403.60" x2="425.30" y2="411.40" stroke="#000" stroke-width="2.8" stroke-linecap="butt"/>
<line x1="425.30" y1="322.30" x2="425.30" y2="279.75" stroke="#000" stroke-width="2.6" stroke-linecap="butt"/>
<line x1="421.30" y1="279.75" x2="429.30" y2="279.75" stroke="#000" stroke-width="2.6" stroke-linecap="butt"/>
<rect x="421.00" y="323.40" width="8.60" height="80.21" fill="#47484a" stroke="#000" stroke-width="2.2"/>
<circle cx="425.30" cy="281.20" r="1.7" fill="#fff" stroke="#000" stroke-width="1.7"/>
<circle cx="425.30" cy="298.70" r="1.7" fill="#fff" stroke="#000" stroke-width="1.7"/>
<circle cx="425.30" cy="332.40" r="1.7" fill="#fff" stroke="#000" stroke-width="1.7"/>
<circle cx="425.30" cy="377.70" r="1.7" fill="#fff" stroke="#000" stroke-width="1.7"/>
<text x="425.30" y="422.90" font-size="11" fill="#000" text-anchor="middle" >20</text>
<line x1="451.15" y1="403.60" x2="451.15" y2="411.40" stroke="#000" stroke-width="2.8" stroke-linecap="butt"/>
<line x1="451.15" y1="393.25" x2="451.15" y2="385.78" stroke="#000" stroke-width="2.6" stroke-linecap="butt"/>
<line x1="447.15" y1="385.78" x2="455.15" y2="385.78" stroke="#000" stroke-width="2.6" stroke-linecap="butt"/>
<rect x="446.85" y="394.35" width="8.60" height="9.25" fill="#3a5ea6" stroke="#000" stroke-width="2.2"/>
<circle cx="448.05" cy="385.40" r="1.7" fill="#fff" stroke="#000" stroke-width="1.7"/>
<circle cx="453.85" cy="386.30" r="1.7" fill="#fff" stroke="#000" stroke-width="1.7"/>
<circle cx="450.85" cy="394.60" r="1.7" fill="#fff" stroke="#000" stroke-width="1.7"/>
<circle cx="450.85" cy="399.60" r="1.7" fill="#fff" stroke="#000" stroke-width="1.7"/>
<circle cx="450.85" cy="404.00" r="1.7" fill="#fff" stroke="#000" stroke-width="1.7"/>
<text x="451.15" y="422.90" font-size="11" fill="#000" text-anchor="middle" >14</text>
<line x1="466.45" y1="403.60" x2="466.45" y2="411.40" stroke="#000" stroke-width="2.8" stroke-linecap="butt"/>
<line x1="466.45" y1="360.48" x2="466.45" y2="332.30" stroke="#000" stroke-width="2.6" stroke-linecap="butt"/>
<line x1="462.45" y1="332.30" x2="470.45" y2="332.30" stroke="#000" stroke-width="2.6" stroke-linecap="butt"/>
<rect x="462.15" y="361.58" width="8.60" height="42.02" fill="#3a5ea6" stroke="#000" stroke-width="2.2"/>
<circle cx="463.75" cy="339.30" r="1.7" fill="#fff" stroke="#000" stroke-width="1.7"/>
<circle cx="469.05" cy="341.50" r="1.7" fill="#fff" stroke="#000" stroke-width="1.7"/>
<circle cx="466.25" cy="346.10" r="1.7" fill="#fff" stroke="#000" stroke-width="1.7"/>
<circle cx="466.25" cy="369.70" r="1.7" fill="#fff" stroke="#000" stroke-width="1.7"/>
<circle cx="466.25" cy="404.00" r="1.7" fill="#fff" stroke="#000" stroke-width="1.7"/>
<text x="466.45" y="422.90" font-size="11" fill="#000" text-anchor="middle" >17</text>
<line x1="481.75" y1="403.60" x2="481.75" y2="411.40" stroke="#000" stroke-width="2.8" stroke-linecap="butt"/>
<line x1="481.75" y1="340.35" x2="481.75" y2="295.73" stroke="#000" stroke-width="2.6" stroke-linecap="butt"/>
<line x1="477.75" y1="295.73" x2="485.75" y2="295.73" stroke="#000" stroke-width="2.6" stroke-linecap="butt"/>
<rect x="477.45" y="341.45" width="8.60" height="62.15" fill="#3a5ea6" stroke="#000" stroke-width="2.2"/>
<circle cx="481.75" cy="297.00" r="1.7" fill="#fff" stroke="#000" stroke-width="1.7"/>
<circle cx="481.75" cy="313.90" r="1.7" fill="#fff" stroke="#000" stroke-width="1.7"/>
<circle cx="481.75" cy="329.20" r="1.7" fill="#fff" stroke="#000" stroke-width="1.7"/>
<circle cx="481.75" cy="359.30" r="1.7" fill="#fff" stroke="#000" stroke-width="1.7"/>
<circle cx="481.75" cy="404.00" r="1.7" fill="#fff" stroke="#000" stroke-width="1.7"/>
<text x="481.75" y="422.90" font-size="11" fill="#000" text-anchor="middle" >20</text>
<line x1="507.60" y1="403.60" x2="507.60" y2="411.40" stroke="#000" stroke-width="2.8" stroke-linecap="butt"/>
<line x1="507.60" y1="392.56" x2="507.60" y2="386.35" stroke="#000" stroke-width="2.6" stroke-linecap="butt"/>
<line x1="503.60" y1="386.35" x2="511.60" y2="386.35" stroke="#000" stroke-width="2.6" stroke-linecap="butt"/>
<rect x="503.30" y="393.66" width="8.60" height="9.94" fill="#f7941d" stroke="#000" stroke-width="2.2"/>
<circle cx="506.60" cy="386.50" r="1.7" fill="#fff" stroke="#000" stroke-width="1.7"/>
<circle cx="503.10" cy="391.90" r="1.7" fill="#fff" stroke="#000" stroke-width="1.7"/>
<circle cx="510.10" cy="391.90" r="1.7" fill="#fff" stroke="#000" stroke-width="1.7"/>
<text x="507.60" y="422.90" font-size="11" fill="#000" text-anchor="middle" >14</text>
<line x1="522.90" y1="403.60" x2="522.90" y2="411.40" stroke="#000" stroke-width="2.8" stroke-linecap="butt"/>
<line x1="522.90" y1="378.65" x2="522.90" y2="362.66" stroke="#000" stroke-width="2.6" stroke-linecap="butt"/>
<line x1="518.90" y1="362.66" x2="526.90" y2="362.66" stroke="#000" stroke-width="2.6" stroke-linecap="butt"/>
<rect x="518.60" y="379.75" width="8.60" height="23.85" fill="#f7941d" stroke="#000" stroke-width="2.2"/>
<circle cx="522.90" cy="363.20" r="1.7" fill="#fff" stroke="#000" stroke-width="1.7"/>
<circle cx="522.90" cy="383.30" r="1.7" fill="#fff" stroke="#000" stroke-width="1.7"/>
<circle cx="522.90" cy="388.90" r="1.7" fill="#fff" stroke="#000" stroke-width="1.7"/>
<text x="522.90" y="422.90" font-size="11" fill="#000" text-anchor="middle" >17</text>
<line x1="538.20" y1="403.60" x2="538.20" y2="411.40" stroke="#000" stroke-width="2.8" stroke-linecap="butt"/>
<line x1="538.20" y1="345.75" x2="538.20" y2="316.89" stroke="#000" stroke-width="2.6" stroke-linecap="butt"/>
<line x1="534.20" y1="316.89" x2="542.20" y2="316.89" stroke="#000" stroke-width="2.6" stroke-linecap="butt"/>
<rect x="533.90" y="346.86" width="8.60" height="56.75" fill="#f7941d" stroke="#000" stroke-width="2.2"/>
<circle cx="538.20" cy="314.60" r="1.7" fill="#fff" stroke="#000" stroke-width="1.7"/>
<circle cx="538.20" cy="354.10" r="1.7" fill="#fff" stroke="#000" stroke-width="1.7"/>
<circle cx="538.20" cy="367.40" r="1.7" fill="#fff" stroke="#000" stroke-width="1.7"/>
<text x="538.20" y="422.90" font-size="11" fill="#000" text-anchor="middle" >20</text>
<line x1="564.05" y1="403.60" x2="564.05" y2="411.40" stroke="#000" stroke-width="2.8" stroke-linecap="butt"/>
<line x1="564.05" y1="394.86" x2="564.05" y2="389.23" stroke="#000" stroke-width="2.6" stroke-linecap="butt"/>
<line x1="560.05" y1="389.23" x2="568.05" y2="389.23" stroke="#000" stroke-width="2.6" stroke-linecap="butt"/>
<rect x="559.75" y="395.96" width="8.60" height="7.64" fill="#c56aae" stroke="#000" stroke-width="2.2"/>
<circle cx="563.65" cy="388.40" r="1.7" fill="#fff" stroke="#000" stroke-width="1.7"/>
<circle cx="567.15" cy="391.20" r="1.7" fill="#fff" stroke="#000" stroke-width="1.7"/>
<circle cx="562.35" cy="397.00" r="1.7" fill="#fff" stroke="#000" stroke-width="1.7"/>
<circle cx="566.05" cy="398.50" r="1.7" fill="#fff" stroke="#000" stroke-width="1.7"/>
<text x="564.05" y="422.90" font-size="11" fill="#000" text-anchor="middle" >14</text>
<line x1="579.35" y1="403.60" x2="579.35" y2="411.40" stroke="#000" stroke-width="2.8" stroke-linecap="butt"/>
<line x1="579.35" y1="389.57" x2="579.35" y2="381.75" stroke="#000" stroke-width="2.6" stroke-linecap="butt"/>
<line x1="575.35" y1="381.75" x2="583.35" y2="381.75" stroke="#000" stroke-width="2.6" stroke-linecap="butt"/>
<rect x="575.05" y="390.67" width="8.60" height="12.93" fill="#c56aae" stroke="#000" stroke-width="2.2"/>
<circle cx="576.45" cy="378.60" r="1.7" fill="#fff" stroke="#000" stroke-width="1.7"/>
<circle cx="582.35" cy="382.60" r="1.7" fill="#fff" stroke="#000" stroke-width="1.7"/>
<circle cx="575.75" cy="390.30" r="1.7" fill="#fff" stroke="#000" stroke-width="1.7"/>
<circle cx="582.35" cy="391.90" r="1.7" fill="#fff" stroke="#000" stroke-width="1.7"/>
<circle cx="579.35" cy="404.00" r="1.7" fill="#fff" stroke="#000" stroke-width="1.7"/>
<text x="579.35" y="422.90" font-size="11" fill="#000" text-anchor="middle" >17</text>
<line x1="594.65" y1="403.60" x2="594.65" y2="411.40" stroke="#000" stroke-width="2.8" stroke-linecap="butt"/>
<line x1="594.65" y1="378.65" x2="594.65" y2="351.50" stroke="#000" stroke-width="2.6" stroke-linecap="butt"/>
<line x1="590.65" y1="351.50" x2="598.65" y2="351.50" stroke="#000" stroke-width="2.6" stroke-linecap="butt"/>
<rect x="590.35" y="379.75" width="8.60" height="23.85" fill="#c56aae" stroke="#000" stroke-width="2.2"/>
<circle cx="594.65" cy="332.30" r="1.7" fill="#fff" stroke="#000" stroke-width="1.7"/>
<circle cx="594.65" cy="380.90" r="1.7" fill="#fff" stroke="#000" stroke-width="1.7"/>
<circle cx="591.65" cy="386.10" r="1.7" fill="#fff" stroke="#000" stroke-width="1.7"/>
<circle cx="598.15" cy="390.70" r="1.7" fill="#fff" stroke="#000" stroke-width="1.7"/>
<circle cx="594.65" cy="404.00" r="1.7" fill="#fff" stroke="#000" stroke-width="1.7"/>
<text x="594.65" y="422.90" font-size="11" fill="#000" text-anchor="middle" >20</text>
<line x1="620.50" y1="403.60" x2="620.50" y2="411.40" stroke="#000" stroke-width="2.8" stroke-linecap="butt"/>
<line x1="620.50" y1="387.85" x2="620.50" y2="380.60" stroke="#000" stroke-width="2.6" stroke-linecap="butt"/>
<line x1="616.50" y1="380.60" x2="624.50" y2="380.60" stroke="#000" stroke-width="2.6" stroke-linecap="butt"/>
<rect x="616.20" y="388.95" width="8.60" height="14.65" fill="#8b2a8b" stroke="#000" stroke-width="2.2"/>
<circle cx="620.30" cy="377.90" r="1.7" fill="#fff" stroke="#000" stroke-width="1.7"/>
<circle cx="620.30" cy="383.30" r="1.7" fill="#fff" stroke="#000" stroke-width="1.7"/>
<circle cx="617.30" cy="387.90" r="1.7" fill="#fff" stroke="#000" stroke-width="1.7"/>
<circle cx="623.60" cy="387.90" r="1.7" fill="#fff" stroke="#000" stroke-width="1.7"/>
<circle cx="620.50" cy="404.00" r="1.7" fill="#fff" stroke="#000" stroke-width="1.7"/>
<text x="620.50" y="422.90" font-size="11" fill="#000" text-anchor="middle" >14</text>
<line x1="635.80" y1="403.60" x2="635.80" y2="411.40" stroke="#000" stroke-width="2.8" stroke-linecap="butt"/>
<line x1="635.80" y1="370.25" x2="635.80" y2="351.85" stroke="#000" stroke-width="2.6" stroke-linecap="butt"/>
<line x1="631.80" y1="351.85" x2="639.80" y2="351.85" stroke="#000" stroke-width="2.6" stroke-linecap="butt"/>
<rect x="631.50" y="371.35" width="8.60" height="32.25" fill="#8b2a8b" stroke="#000" stroke-width="2.2"/>
<circle cx="635.50" cy="352.20" r="1.7" fill="#fff" stroke="#000" stroke-width="1.7"/>
<circle cx="632.50" cy="360.80" r="1.7" fill="#fff" stroke="#000" stroke-width="1.7"/>
<circle cx="639.50" cy="357.60" r="1.7" fill="#fff" stroke="#000" stroke-width="1.7"/>
<circle cx="635.50" cy="386.10" r="1.7" fill="#fff" stroke="#000" stroke-width="1.7"/>
<circle cx="635.50" cy="393.10" r="1.7" fill="#fff" stroke="#000" stroke-width="1.7"/>
<text x="635.80" y="422.90" font-size="11" fill="#000" text-anchor="middle" >17</text>
<line x1="651.10" y1="403.60" x2="651.10" y2="411.40" stroke="#000" stroke-width="2.8" stroke-linecap="butt"/>
<line x1="651.10" y1="369.22" x2="651.10" y2="349.55" stroke="#000" stroke-width="2.6" stroke-linecap="butt"/>
<line x1="647.10" y1="349.55" x2="655.10" y2="349.55" stroke="#000" stroke-width="2.6" stroke-linecap="butt"/>
<rect x="646.80" y="370.32" width="8.60" height="33.28" fill="#8b2a8b" stroke="#000" stroke-width="2.2"/>
<circle cx="651.10" cy="349.90" r="1.7" fill="#fff" stroke="#000" stroke-width="1.7"/>
<circle cx="651.10" cy="354.50" r="1.7" fill="#fff" stroke="#000" stroke-width="1.7"/>
<circle cx="651.10" cy="372.00" r="1.7" fill="#fff" stroke="#000" stroke-width="1.7"/>
<circle cx="651.10" cy="377.50" r="1.7" fill="#fff" stroke="#000" stroke-width="1.7"/>
<circle cx="651.10" cy="397.70" r="1.7" fill="#fff" stroke="#000" stroke-width="1.7"/>
<text x="651.10" y="422.90" font-size="11" fill="#000" text-anchor="middle" >20</text>
<path d="M594.20 326.55L594.20 318.65M590.78 324.58L597.62 320.62M590.78 320.62L597.62 324.58" stroke="#000" stroke-width="2.1" fill="none"/>
<path d="M650.70 343.25L650.70 335.35M647.28 341.28L654.12 337.32M647.28 337.32L654.12 341.28" stroke="#000" stroke-width="2.1" fill="none"/>
<rect x="446.90" y="259.50" width="15.1" height="7.9" fill="#47484a" stroke="#000" stroke-width="2.6"/>
<text x="470.00" y="267.60" font-size="11" fill="#000" >PBS</text>
<rect x="446.90" y="275.90" width="15.1" height="7.9" fill="#3a5ea6" stroke="#000" stroke-width="2.6"/>
<text x="470.00" y="284.00" font-size="11" fill="#000" >NC ASO</text>
<rect x="531.50" y="259.50" width="15.1" height="7.9" fill="#f7941d" stroke="#000" stroke-width="2.6"/>
<text x="554.90" y="266.90" font-size="11.1" fill="#000" >Snord67 ASO (12 mg/kg)</text>
<rect x="531.50" y="275.90" width="15.1" height="7.9" fill="#c56aae" stroke="#000" stroke-width="2.6"/>
<text x="554.90" y="283.30" font-size="11.1" fill="#000" >Snord67 ASO (24 mg/kg)</text>
<rect x="531.50" y="291.30" width="15.1" height="7.9" fill="#8b2a8b" stroke="#000" stroke-width="2.6"/>
<text x="554.90" y="298.70" font-size="11.1" fill="#000" >Snord67 ASO (48 mg/kg)</text>
<line x1="545.70" y1="510.60" x2="545.70" y2="649.00" stroke="#000" stroke-width="2.8" stroke-linecap="butt"/>
<line x1="544.30" y1="647.60" x2="680.80" y2="647.60" stroke="#000" stroke-width="2.8" stroke-linecap="butt"/>
<line x1="537.00" y1="647.60" x2="545.70" y2="647.60" stroke="#000" stroke-width="2.8" stroke-linecap="butt"/>
<text x="536.60" y="651.70" font-size="10.3" fill="#000" text-anchor="end" >0</text>
<line x1="537.00" y1="602.50" x2="545.70" y2="602.50" stroke="#000" stroke-width="2.8" stroke-linecap="butt"/>
<text x="536.6" y="606.80" font-size="10.3" text-anchor="end">1×10<tspan font-size="7.3" dy="-4.1">6</tspan></text>
<line x1="537.00" y1="557.40" x2="545.70" y2="557.40" stroke="#000" stroke-width="2.8" stroke-linecap="butt"/>
<text x="536.6" y="561.70" font-size="10.3" text-anchor="end">2×10<tspan font-size="7.3" dy="-4.1">6</tspan></text>
<line x1="537.00" y1="512.30" x2="545.70" y2="512.30" stroke="#000" stroke-width="2.8" stroke-linecap="butt"/>
<text x="536.6" y="516.60" font-size="10.3" text-anchor="end">3×10<tspan font-size="7.3" dy="-4.1">6</tspan></text>
<text font-size="11" text-anchor="middle" transform="translate(493.6,580.8) rotate(-90)">Lung metastases (RLU)</text>
<line x1="572.30" y1="647.60" x2="572.30" y2="655.00" stroke="#000" stroke-width="2.8" stroke-linecap="butt"/>
<line x1="613.10" y1="647.60" x2="613.10" y2="655.00" stroke="#000" stroke-width="2.8" stroke-linecap="butt"/>
<line x1="653.60" y1="647.60" x2="653.60" y2="655.00" stroke="#000" stroke-width="2.8" stroke-linecap="butt"/>
<line x1="572.30" y1="573.80" x2="572.30" y2="541.80" stroke="#000" stroke-width="2.8" stroke-linecap="butt"/>
<line x1="564.00" y1="541.80" x2="580.60" y2="541.80" stroke="#000" stroke-width="2.8" stroke-linecap="butt"/>
<rect x="560.85" y="575.15" width="23.60" height="72.45" fill="#47484a" stroke="#000" stroke-width="2.7"/>
<circle cx="572.50" cy="532.20" r="1.95" fill="#fff" stroke="#000" stroke-width="2.0"/>
<circle cx="572.50" cy="538.80" r="1.95" fill="#fff" stroke="#000" stroke-width="2.0"/>
<circle cx="572.50" cy="546.20" r="1.95" fill="#fff" stroke="#000" stroke-width="2.0"/>
<circle cx="572.50" cy="553.20" r="1.95" fill="#fff" stroke="#000" stroke-width="2.0"/>
<circle cx="572.50" cy="560.20" r="1.95" fill="#fff" stroke="#000" stroke-width="2.0"/>
<circle cx="568.60" cy="586.50" r="1.95" fill="#fff" stroke="#000" stroke-width="2.0"/>
<circle cx="568.60" cy="591.80" r="1.95" fill="#fff" stroke="#000" stroke-width="2.0"/>
<circle cx="576.40" cy="590.10" r="1.95" fill="#fff" stroke="#000" stroke-width="2.0"/>
<circle cx="572.20" cy="606.60" r="1.95" fill="#fff" stroke="#000" stroke-width="2.0"/>
<circle cx="572.20" cy="626.00" r="1.95" fill="#fff" stroke="#000" stroke-width="2.0"/>
<circle cx="601.80" cy="647.00" r="1.95" fill="#fff" stroke="#000" stroke-width="2.0"/>
<circle cx="605.50" cy="647.00" r="1.95" fill="#fff" stroke="#000" stroke-width="2.0"/>
<circle cx="609.50" cy="647.00" r="1.95" fill="#fff" stroke="#000" stroke-width="2.0"/>
<circle cx="613.10" cy="647.00" r="1.95" fill="#fff" stroke="#000" stroke-width="2.0"/>
<circle cx="617.00" cy="647.00" r="1.95" fill="#fff" stroke="#000" stroke-width="2.0"/>
<circle cx="621.00" cy="647.00" r="1.95" fill="#fff" stroke="#000" stroke-width="2.0"/>
<circle cx="624.50" cy="647.00" r="1.95" fill="#fff" stroke="#000" stroke-width="2.0"/>
<circle cx="642.30" cy="646.80" r="1.95" fill="#fff" stroke="#000" stroke-width="2.0"/>
<circle cx="645.50" cy="646.80" r="1.95" fill="#fff" stroke="#000" stroke-width="2.0"/>
<circle cx="649.50" cy="646.80" r="1.95" fill="#fff" stroke="#000" stroke-width="2.0"/>
<circle cx="653.60" cy="646.80" r="1.95" fill="#fff" stroke="#000" stroke-width="2.0"/>
<circle cx="657.50" cy="646.80" r="1.95" fill="#fff" stroke="#000" stroke-width="2.0"/>
<circle cx="661.50" cy="646.80" r="1.95" fill="#fff" stroke="#000" stroke-width="2.0"/>
<circle cx="665.20" cy="646.80" r="1.95" fill="#fff" stroke="#000" stroke-width="2.0"/>
<path d="M572.30 498.3 L572.30 489.6 L653.60 489.6 L653.60 639.4" fill="none" stroke="#000" stroke-width="2.6" />
<path d="M572.30 525.8 L572.30 516.5 L613.10 516.5 L613.10 639.4" fill="none" stroke="#000" stroke-width="2.6" />
<path d="M600.68 484.45L600.68 476.55M597.25 482.48L604.10 478.52M597.25 478.52L604.10 482.48" stroke="#000" stroke-width="2.2" fill="none"/>
<path d="M609.03 484.45L609.03 476.55M605.60 482.48L612.45 478.52M605.60 478.52L612.45 482.48" stroke="#000" stroke-width="2.2" fill="none"/>
<path d="M617.38 484.45L617.38 476.55M613.95 482.48L620.80 478.52M613.95 478.52L620.80 482.48" stroke="#000" stroke-width="2.2" fill="none"/>
<path d="M625.73 484.45L625.73 476.55M622.30 482.48L629.15 478.52M622.30 478.52L629.15 482.48" stroke="#000" stroke-width="2.2" fill="none"/>
<path d="M580.58 511.15L580.58 503.25M577.15 509.18L584.00 505.22M577.15 505.22L584.00 509.18" stroke="#000" stroke-width="2.2" fill="none"/>
<path d="M588.93 511.15L588.93 503.25M585.50 509.18L592.35 505.22M585.50 505.22L592.35 509.18" stroke="#000" stroke-width="2.2" fill="none"/>
<path d="M597.28 511.15L597.28 503.25M593.85 509.18L600.70 505.22M593.85 505.22L600.70 509.18" stroke="#000" stroke-width="2.2" fill="none"/>
<path d="M605.62 511.15L605.62 503.25M602.20 509.18L609.05 505.22M602.20 505.22L609.05 509.18" stroke="#000" stroke-width="2.2" fill="none"/>
<text font-size="10.5" text-anchor="end" transform="translate(575.20,662.60) rotate(-45)">4T1</text>
<text font-size="10.5" text-anchor="end" transform="translate(616.00,662.60) rotate(-45)">Snord67KO-1</text>
<text font-size="10.5" text-anchor="end" transform="translate(656.50,662.60) rotate(-45)">Snord67KO-2</text>
</svg>
</body></html>
